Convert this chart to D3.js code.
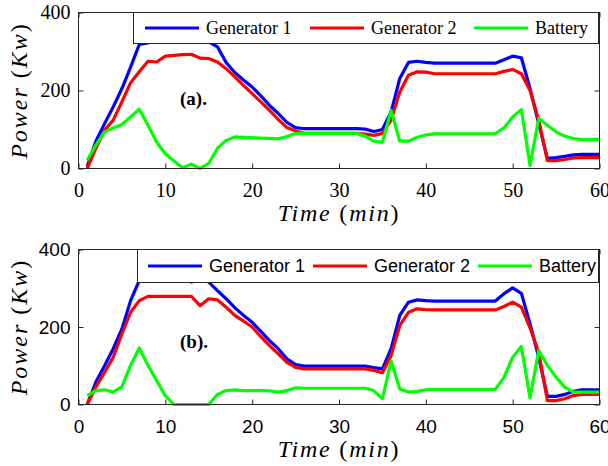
<!DOCTYPE html>
<html>
<head>
<meta charset="utf-8">
<script src="https://cdn.jsdelivr.net/npm/d3@7"></script>
<style>
    body { margin: 0; background: #fff; }
    svg { display: block; }
</style>
</head>
<body>
<svg id="chart" width="608" height="466"></svg>
<script>
(function () {
    "use strict";

    // time in minutes, one sample per minute
    const time = d3.range(1, 61);

    const xTicks = [0, 10, 20, 30, 40, 50, 60];
    const yTicks = [0, 200, 400];
    const seriesNames = ["Generator 1", "Generator 2", "Battery"];
    const panelTags = ["(a).", "(b)."];

    // panel (a)
    const gen1A = [5, 70, 115, 158, 205, 260, 318, 322, 335, 340,
        340, 340, 340, 335, 325, 312, 272, 246, 227, 209,
        186, 162, 141, 118, 105, 102, 102, 102, 102, 102,
        102, 102, 101, 95, 100, 145, 231, 272, 275, 272,
        270, 270, 270, 270, 270, 270, 270, 270, 279, 288,
        284, 205, 115, 26, 28, 31, 35, 36, 36, 36];
    const gen2A = [0, 52, 98, 124, 171, 220, 248, 275, 273, 288,
        290, 292, 293, 283, 282, 273, 256, 235, 213, 192,
        171, 149, 126, 105, 96, 90, 90, 90, 90, 90,
        90, 90, 88, 85, 90, 124, 196, 239, 248, 247,
        243, 243, 243, 243, 243, 243, 243, 243, 249, 254,
        243, 200, 124, 20, 20, 23, 27, 28, 28, 28];
    const batA = [21, 60, 94, 104, 113, 132, 152, 111, 68, 38,
        19, 2, 11, 0, 13, 52, 72, 81, 80, 79,
        78, 77, 76, 82, 90, 90, 90, 90, 90, 90,
        90, 90, 83, 70, 67, 149, 70, 70, 80, 86,
        89, 89, 89, 89, 89, 89, 89, 89, 104, 132,
        151, 8, 128, 111, 94, 83, 77, 74, 74, 74];

    // panel (b)
    const gen1B = [0, 58, 100, 144, 195, 268, 320, 322, 325, 325,
        325, 325, 316, 322, 316, 294, 273, 250, 230, 212,
        189, 165, 144, 118, 103, 99, 99, 99, 99, 99,
        99, 99, 99, 95, 92, 144, 230, 264, 270, 268,
        267, 267, 267, 267, 267, 267, 267, 267, 286, 301,
        287, 208, 122, 21, 21, 26, 34, 38, 38, 38];
    const gen2B = [0, 45, 83, 122, 182, 238, 268, 279, 279, 279,
        279, 279, 279, 255, 273, 270, 251, 230, 215, 200,
        175, 152, 131, 109, 96, 92, 92, 92, 92, 92,
        92, 92, 92, 88, 82, 126, 204, 238, 247, 245,
        244, 244, 244, 244, 244, 244, 244, 244, 253, 264,
        251, 198, 135, 10, 10, 15, 23, 26, 26, 26];
    const batB = [23, 36, 38, 32, 46, 101, 146, 101, 62, 23,
        0, 0, 0, 0, 0, 26, 36, 38, 36, 36,
        36, 35, 32, 36, 43, 42, 42, 42, 42, 42,
        42, 42, 42, 36, 15, 112, 40, 32, 34, 38,
        39, 39, 39, 39, 39, 39, 39, 39, 70, 122,
        150, 17, 139, 101, 70, 45, 32, 32, 32, 32];

    const colors = ["#0000ff", "#ff0000", "#00ff00"];
    const axisColor = "#262626";
    const serif = "'Liberation Serif', 'Times New Roman', serif";
    const sans = "'Liberation Sans', Arial, sans-serif";

    const svg = d3.select("#chart");

    const xScale = d3.scaleLinear()
        .domain([0, 60])
        .range([78.5, 599.5]);

    const panels = [
        {
            series: [gen1A, gen2A, batA],
            tag: panelTags[0],
            top: 12.5,
            bottom: 168.5,
            font: serif,
            fontSize: 20,
            legendBox: [133.5, 12.5, 465, 31],
            legendX: [145, 310, 474],
            legendBaseline: 33.5,
            tagPos: [180, 105],
            xPad: 14,
            labelBaseline: 221
        },
        {
            series: [gen1B, gen2B, batB],
            tag: panelTags[1],
            top: 249.5,
            bottom: 404.5,
            font: sans,
            fontSize: 19,
            legendBox: [137.5, 249.5, 461, 33],
            legendX: [148, 313, 478],
            legendBaseline: 272,
            tagPos: [180, 348],
            xPad: 15,
            labelBaseline: 457
        }
    ];

    function drawPanel(p) {
        const yScale = d3.scaleLinear()
            .domain([0, 400])
            .range([p.bottom, p.top]);

        const g = svg.append("g");

        // lines
        const line = d3.line()
            .x((d, i) => xScale(time[i]))
            .y(d => yScale(d));

        p.series.forEach((values, i) => {
            g.append("path")
                .datum(values)
                .attr("d", line)
                .attr("fill", "none")
                .attr("stroke", colors[i])
                .attr("stroke-width", 3.2)
                .attr("stroke-linejoin", "round");
        });

        // axes, ticks inside like matlab
        const bottomAxis = d3.axisBottom(xScale)
            .tickValues(xTicks)
            .tickSizeInner(-5)
            .tickSizeOuter(0)
            .tickPadding(p.xPad);

        const gx = g.append("g")
            .attr("transform", `translate(0,${p.bottom})`)
            .call(bottomAxis);

        const leftAxis = d3.axisLeft(yScale)
            .tickValues(yTicks)
            .tickSizeInner(-5)
            .tickSizeOuter(0)
            .tickPadding(8);

        const gy = g.append("g")
            .attr("transform", `translate(${xScale(0)},0)`)
            .call(leftAxis);

        const gr = g.append("g")
            .attr("transform", `translate(${xScale(60)},0)`)
            .call(d3.axisRight(yScale).tickValues(yTicks).tickSizeInner(-5).tickSizeOuter(0).tickFormat(""));

        const gt = g.append("g")
            .attr("transform", `translate(0,${p.top})`)
            .call(d3.axisTop(xScale).tickValues(xTicks).tickSizeInner(-5).tickSizeOuter(0).tickFormat(""));

        [gx, gy, gr, gt].forEach((a) => {
            a.select(".domain").remove();
            a.selectAll("line").attr("stroke", axisColor);
            a.selectAll("text")
                .attr("fill", "#000")
                .attr("font-family", p.font)
                .attr("font-size", p.fontSize);
        });

        g.append("rect")
            .attr("x", xScale(0))
            .attr("y", p.top)
            .attr("width", xScale(60) - xScale(0))
            .attr("height", p.bottom - p.top)
            .attr("fill", "none")
            .attr("stroke", axisColor);

        // legend on top of the lines
        const lb = p.legendBox;
        const legend = g.append("g");
        legend.append("rect")
            .attr("x", lb[0])
            .attr("y", lb[1])
            .attr("width", lb[2])
            .attr("height", lb[3])
            .attr("fill", "#fff")
            .attr("stroke", axisColor);

        seriesNames.forEach((name, i) => {
            const lx = p.legendX[i];
            const ly = lb[1] + lb[3] / 2;
            legend.append("line")
                .attr("x1", lx)
                .attr("x2", lx + 54)
                .attr("y1", ly)
                .attr("y2", ly)
                .attr("stroke", colors[i])
                .attr("stroke-width", 3.2);
            legend.append("text")
                .attr("x", lx + 61)
                .attr("y", p.legendBaseline)
                .attr("font-family", p.font)
                .attr("font-size", 18)
                .text(name);
        });

        g.append("text")
            .attr("x", p.tagPos[0])
            .attr("y", p.tagPos[1])
            .attr("font-family", serif)
            .attr("font-weight", "bold")
            .attr("font-size", 19)
            .text(p.tag);

        // axis titles, latex-ish math italics
        const yTitle = g.append("text")
            .attr("transform", `translate(27,${(p.top + p.bottom) / 2}) rotate(-90)`)
            .attr("text-anchor", "middle")
            .attr("font-family", serif)
            .attr("font-size", 24)
            .attr("letter-spacing", 2);
        yTitle.append("tspan").attr("font-style", "italic").text("Power");
        yTitle.append("tspan").text(" (");
        yTitle.append("tspan").attr("font-style", "italic").text("Kw");
        yTitle.append("tspan").text(")");

        const xTitle = g.append("text")
            .attr("x", (xScale(0) + xScale(60)) / 2)
            .attr("y", p.labelBaseline)
            .attr("text-anchor", "middle")
            .attr("font-family", serif)
            .attr("font-size", 24)
            .attr("letter-spacing", 1.8);
        xTitle.append("tspan").attr("font-style", "italic").text("Time");
        xTitle.append("tspan").text(" (");
        xTitle.append("tspan").attr("font-style", "italic").text("min");
        xTitle.append("tspan").text(")");
    }

    panels.forEach(drawPanel);
}());
</script>
</body>
</html>
